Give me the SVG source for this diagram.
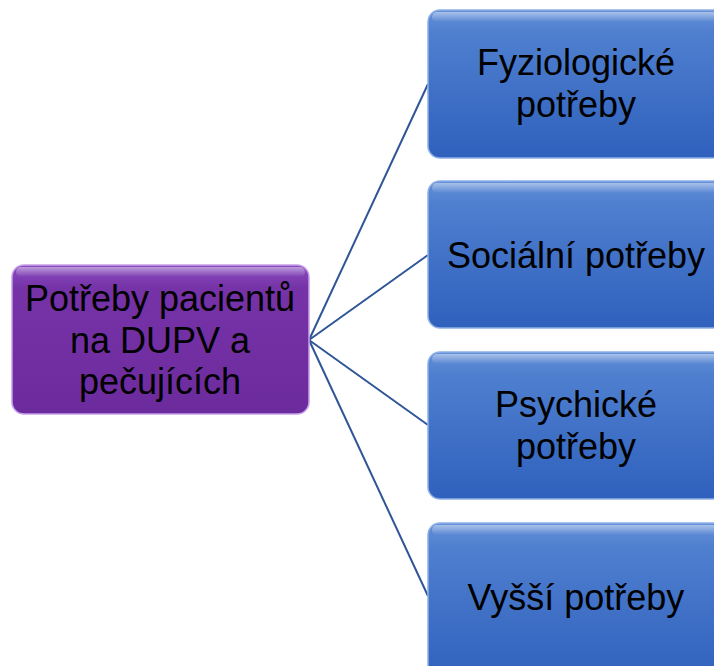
<svg xmlns="http://www.w3.org/2000/svg" width="714" height="666" viewBox="0 0 714 666">
<defs>
<linearGradient id="gBlue" x1="0" y1="0" x2="0" y2="1">
<stop offset="0" stop-color="#6490d8"/>
<stop offset="0.15" stop-color="#4f7fcf"/>
<stop offset="1" stop-color="#2f61bd"/>
</linearGradient>
<linearGradient id="gPurple" x1="0" y1="0" x2="0" y2="1">
<stop offset="0" stop-color="#8a4cc0"/>
<stop offset="0.15" stop-color="#7633a8"/>
<stop offset="1" stop-color="#6c2b9d"/>
</linearGradient>
<linearGradient id="gHi" x1="0" y1="0" x2="0" y2="1">
<stop offset="0" stop-color="#ffffff" stop-opacity="0.45"/>
<stop offset="1" stop-color="#ffffff" stop-opacity="0"/>
</linearGradient>
</defs>
<style>
.blue{fill:url(#gBlue);stroke:#8fb0e6;stroke-width:1.5}
.purple{fill:url(#gPurple);stroke:#c6a0e8;stroke-width:1.5}
.hi{fill:url(#gHi)}
.t{font-family:"Liberation Sans",Arial,sans-serif;font-size:36px;fill:#000;text-anchor:middle}
.c{fill:none;stroke:#2f5597;stroke-width:2}
</style>
<rect width="714" height="666" fill="#ffffff"/>
<g id="connectors">
<line class="c" x1="309" y1="340" x2="428" y2="84"/>
<line class="c" x1="309" y1="340" x2="428" y2="255"/>
<line class="c" x1="309" y1="340" x2="428" y2="425"/>
<line class="c" x1="309" y1="340" x2="428" y2="596"/>
</g>
<g id="root">
<rect class="purple" x="12" y="265" width="297" height="149" rx="12"/>
<rect class="hi" x="16" y="267" width="289" height="10" rx="5"/>
<text class="t" x="160" y="311">Potřeby pacientů</text>
<text class="t" x="160" y="353">na DUPV a</text>
<text class="t" x="160" y="394">pečujících</text>
</g>
<g id="n1">
<rect class="blue" x="428" y="10" width="310" height="148" rx="12"/>
<rect class="hi" x="432" y="12" width="300" height="10" rx="5"/>
<text class="t" x="576" y="75">Fyziologické</text>
<text class="t" x="576" y="117">potřeby</text>
</g>
<g id="n2">
<rect class="blue" x="428" y="181" width="310" height="147" rx="12"/>
<rect class="hi" x="432" y="183" width="300" height="10" rx="5"/>
<text class="t" x="576" y="268">Sociální potřeby</text>
</g>
<g id="n3">
<rect class="blue" x="428" y="352" width="310" height="147" rx="12"/>
<rect class="hi" x="432" y="354" width="300" height="10" rx="5"/>
<text class="t" x="576" y="417">Psychické</text>
<text class="t" x="576" y="459">potřeby</text>
</g>
<g id="n4">
<rect class="blue" x="428" y="523" width="310" height="160" rx="12"/>
<rect class="hi" x="432" y="525" width="300" height="10" rx="5"/>
<text class="t" x="576" y="610">Vyšší potřeby</text>
</g>
</svg>
